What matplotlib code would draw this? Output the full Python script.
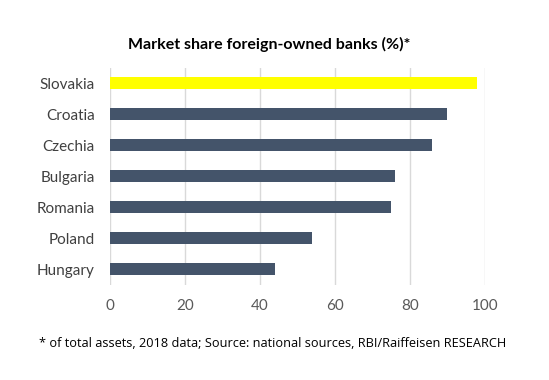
import matplotlib
matplotlib.use("Agg")
from matplotlib import pyplot as plt

countries = ["Slovakia", "Croatia", "Czechia", "Bulgaria", "Romania", "Poland", "Hungary"]
shares = [98, 90, 86, 76, 75, 54, 44]
colors = ["#FFFF00"] + ["#44546A"] * 6
xticks = [0, 20, 40, 60, 80, 100]

fig = plt.figure(figsize=(5.49, 3.8), dpi=100)
ax = fig.add_axes([0.2, 0.251, 0.683, 0.571])

pos = list(range(len(countries)))
ax.barh(pos, shares, height=0.4, color=colors, zorder=3)
ax.set_ylim(len(countries) - 0.5, -0.5)
ax.set_xlim(0, 100)
ax.set_yticks(pos)
ax.set_yticklabels(countries, fontsize=11, family="Lato", color="#404040")
ax.set_xticks(xticks)
ax.set_xticklabels([str(t) for t in xticks], fontsize=11, family="Lato", color="#595959")
ax.tick_params(length=0, pad=11)
ax.tick_params(axis="x", pad=10)
ax.grid(axis="x", color="#D9D9D9", linewidth=1, zorder=0)
for s in ax.spines.values():
    s.set_visible(False)

fig.text(0.49, 0.884, "Market share foreign-owned banks (%)*", ha="center", va="center",
         fontsize=11.5, fontweight="bold", family="Lato")
fig.text(0.497, 0.095, "* of total assets, 2018 data; Source: national sources, RBI/Raiffeisen RESEARCH",
         ha="center", va="center", fontsize=9.2, family="Open Sans")

fig.savefig("out.png", dpi=100)
